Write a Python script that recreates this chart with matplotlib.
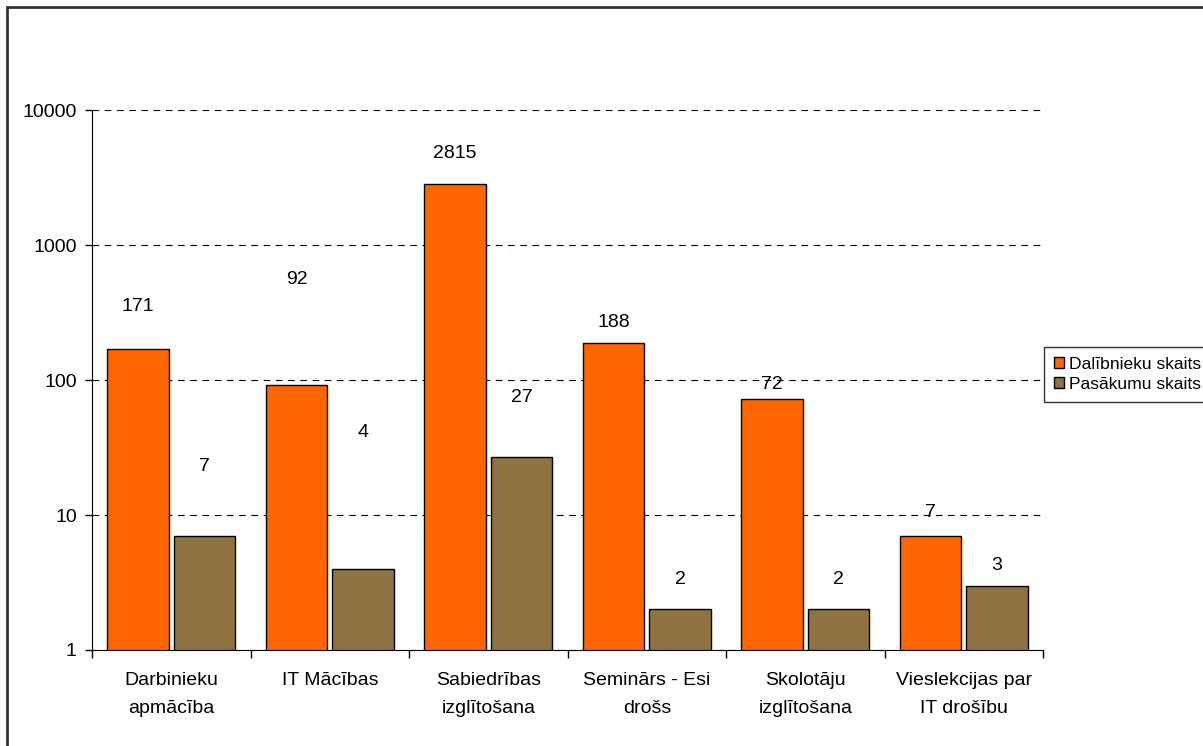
import numpy as np
import matplotlib
matplotlib.use("Agg")
import matplotlib.pyplot as plt
from matplotlib.patches import Rectangle

plt.rcParams['font.family'] = ['Liberation Sans', 'DejaVu Sans']

categories = ["Darbinieku\napmācība", "IT Mācības", "Sabiedrības\nizglītošana",
              "Seminārs - Esi\ndrošs", "Skolotāju\nizglītošana", "Vieslekcijas par\nIT drošību"]
dalibnieki = [171, 92, 2815, 188, 72, 7]
pasakumi = [7, 4, 27, 2, 2, 3]
# heights where the value labels sit (data units)
dal_label_y = [348, 560, 4800, 269, 93, 10.5]
pas_label_y = [22.7, 41, 73.6, 3.3, 3.3, 4.26]

fs = 14

fig = plt.figure(figsize=(12.03, 7.46), dpi=100)
ax = fig.add_axes([0.0765, 0.1287, 0.7905, 0.7238])

x = np.arange(len(categories))
w = 0.39
off = 0.21
ax.bar(x - off, dalibnieki, w, color='#FF6600', edgecolor='black', linewidth=1,
       label='Dalībnieku skaits')
ax.bar(x + off, pasakumi, w, color='#8F7240', edgecolor='black', linewidth=1,
       label='Pasākumu skaits')

for i in range(len(categories)):
    ax.text(x[i] - off, dal_label_y[i], str(dalibnieki[i]), ha='center', va='center', fontsize=fs)
    ax.text(x[i] + off, pas_label_y[i], str(pasakumi[i]), ha='center', va='center', fontsize=fs)

ax.set_yscale('log')
ax.set_ylim(1, 10000)
ax.set_xlim(-0.5, len(categories) - 0.5)
ax.set_yticks([1, 10, 100, 1000, 10000])
ax.set_yticklabels(['1', '10', '100', '1000', '10000'])
ax.yaxis.set_minor_locator(matplotlib.ticker.NullLocator())
ax.tick_params(axis='y', length=5, width=1, labelsize=fs, pad=6)

ax.set_xticks(np.arange(len(categories) + 1) - 0.5)
ax.set_xticklabels([])
ax.set_xticks(x, minor=True)
ax.set_xticklabels(categories, minor=True, fontsize=fs)
for t in ax.get_xticklabels(minor=True):
    t.set_linespacing(1.8)
ax.tick_params(axis='x', which='major', length=6, width=1)
ax.tick_params(axis='x', which='minor', length=0, pad=16)

ax.grid(axis='y', which='major', linestyle=(0, (6, 5)), color='black', linewidth=0.8)
for s in ['top', 'right']:
    ax.spines[s].set_visible(False)
ax.set_axisbelow(True)

# legend sits against the right edge, its frame running past it
fig.legend(loc='upper left', bbox_to_anchor=(1044 / 1203, 1 - 347 / 746),
           fontsize=12.6, frameon=True, fancybox=False, edgecolor='black',
           handlelength=0.6, handleheight=0.6, handletextpad=0.3,
           borderpad=0.55, labelspacing=0.3, borderaxespad=0)

fig.patches.append(Rectangle((7 / 1203, -0.1), 1.2, 1.1 - 7 / 746, transform=fig.transFigure,
                             fill=False, edgecolor='#333333', linewidth=2))

fig.savefig('out.png', dpi=100)
